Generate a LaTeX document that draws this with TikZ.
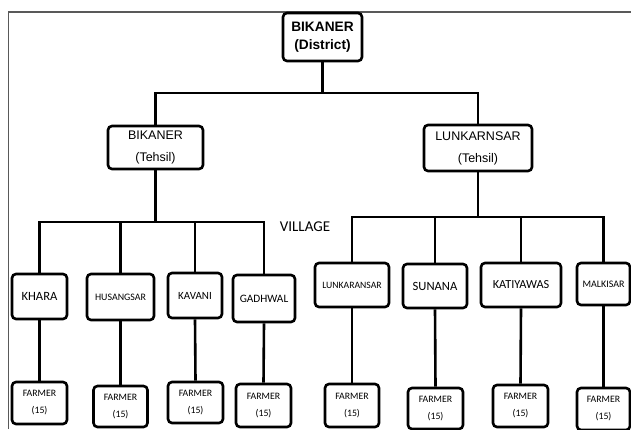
\documentclass[tikz,border=0pt]{standalone}
\usepackage{fontspec}
\setmainfont{Liberation Sans}
\newfontfamily\calibrifont{Carlito}
\usetikzlibrary{backgrounds}
\begin{document}
\begin{tikzpicture}[x=1pt,y=-1pt,
  box/.style={draw=black, line width=2.6pt, rounded corners=4pt, fill=white,
    align=center, inner sep=0pt, minimum width=#1},
  conn/.style={draw=black, line width=2.6pt},
  ffont/.style={font=\calibrifont\fontsize{9.8}{17}\selectfont},
]
\useasboundingbox (0,0) rectangle (631,429);

% top level
\node[box=79pt, minimum height=48pt, font=\bfseries\fontsize{13.7}{18}\selectfont] (bd) at (322.5,37) {BIKANER\\(District)};
\node[box=95pt, minimum height=43pt, font=\fontsize{12.5}{22}\selectfont] (bt) at (155.5,147.5) {BIKANER\\(Tehsil)};
\node[box=108pt, minimum height=46pt, font=\fontsize{12.5}{22}\selectfont] (lt) at (478,148) {LUNKARNSAR\\(Tehsil)};

\coordinate (busT) at (322.5,93);
\coordinate (busL) at (155.5,222);
\coordinate (busR) at (478,217);

% villages
\node[box=55pt, minimum height=45pt, font=\calibrifont\fontsize{12.6}{14}\selectfont] (khara) at (39.5,296.5) {KHARA};
\node[box=67pt, minimum height=46pt, font=\calibrifont\fontsize{9.9}{12}\selectfont] (husangsar) at (120.5,297) {HUSANGSAR};
\node[box=54pt, minimum height=45pt, font=\calibrifont\fontsize{11}{13}\selectfont] (kavani) at (195,295.5) {KAVANI};
\node[box=62pt, minimum height=47pt, font=\calibrifont\fontsize{11.3}{13}\selectfont] (gadhwal) at (264,298.5) {GADHWAL};
\node[box=74pt, minimum height=44pt, font=\calibrifont\fontsize{9.7}{12}\selectfont] (lunkaransar) at (352,285) {LUNKARANSAR};
\node[box=64pt, minimum height=44pt, font=\calibrifont\fontsize{12.6}{14}\selectfont] (sunana) at (435,286) {SUNANA};
\node[box=80pt, minimum height=44pt, font=\calibrifont\fontsize{12.3}{14}\selectfont] (katiyawas) at (521,285) {KATIYAWAS};
\node[box=53pt, minimum height=42pt, font=\calibrifont\fontsize{10}{12}\selectfont] (malkisar) at (603.5,284) {MALKISAR};

\node[font=\calibrifont\fontsize{15}{17}\selectfont, inner sep=0pt] (village) at (305,227) {VILLAGE};

% farmers
\node[box=55pt, minimum height=42pt, ffont] (f1) at (39.5,403) {FARMER\\(15)};
\node[box=54pt, minimum height=41pt, ffont] (f2) at (120.5,406.5) {FARMER\\(15)};
\node[box=55pt, minimum height=41pt, ffont] (f3) at (195.5,402.5) {FARMER\\(15)};
\node[box=55pt, minimum height=43pt, ffont] (f4) at (263.5,405.5) {FARMER\\(15)};
\node[box=54pt, minimum height=43pt, ffont] (f5) at (352,405.5) {FARMER\\(15)};
\node[box=55pt, minimum height=41pt, ffont] (f6) at (435.5,408.5) {FARMER\\(15)};
\node[box=55pt, minimum height=42pt, ffont] (f7) at (520.5,406) {FARMER\\(15)};
\node[box=53pt, minimum height=42pt, ffont] (f8) at (603.5,409) {FARMER\\(15)};

\begin{scope}[on background layer]
\fill[white] (0,0) rectangle (631,429);
% frame
\draw[color=black!65, line width=1.5pt] (8.5,429) -- (8.5,12) -- (631,12);
% connectors
\path[conn] (bd.south) -- (busT);
\path[conn] (bt.north) |- (busT) -| (lt.north);
\path[conn] (bt.south) -- (busL);
\path[conn] (lt.south) -- (busR);
\path[conn] (khara.north) |- (busL) -| (gadhwal.north);
\path[conn] (husangsar.north) -- (husangsar.north |- busL);
\path[conn] (kavani.north) -- (kavani.north |- busL);
\path[conn] (lunkaransar.north) |- (busR) -| (malkisar.north);
\path[conn] (sunana.north) -- (sunana.north |- busR);
\path[conn] (katiyawas.north) -- (katiyawas.north |- busR);
\path[conn] (khara.south) -- (f1.north);
\path[conn] (husangsar.south) -- (f2.north);
\path[conn] (kavani.south) -- (f3.north);
\path[conn] (gadhwal.south) -- (f4.north);
\path[conn] (lunkaransar.south) -- (f5.north);
\path[conn] (sunana.south) -- (f6.north);
\path[conn] (katiyawas.south) -- (f7.north);
\path[conn] (malkisar.south) -- (f8.north);
\end{scope}
\end{tikzpicture}
\end{document}
